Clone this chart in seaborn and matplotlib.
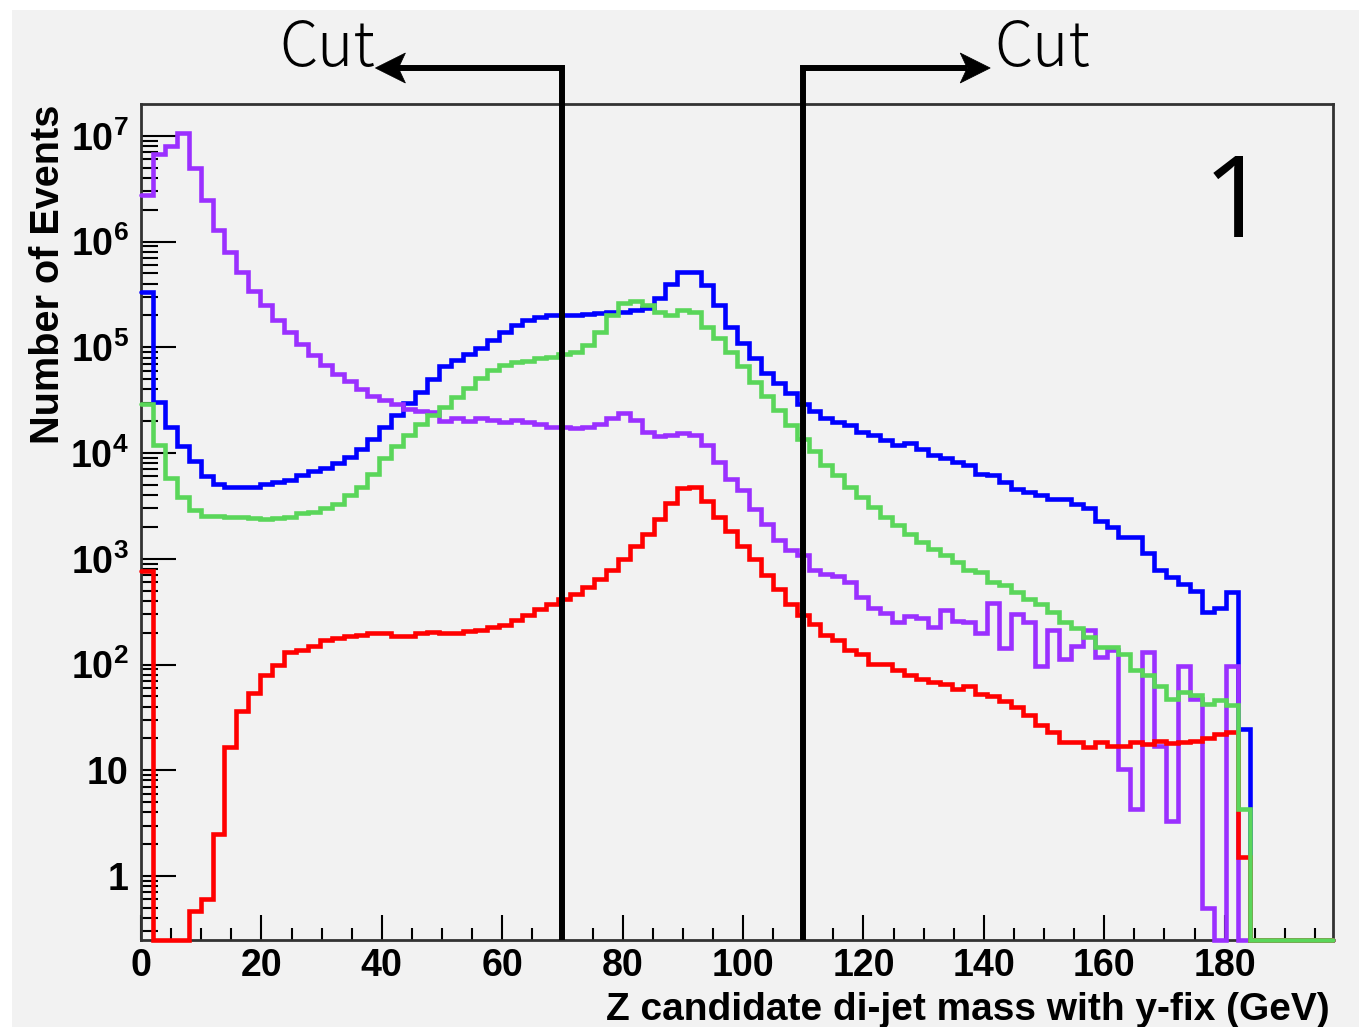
import numpy as np
import pandas as pd
import matplotlib
matplotlib.use("Agg")
import matplotlib.pyplot as plt
import seaborn as sns
from matplotlib.transforms import blended_transform_factory
from matplotlib.patches import Polygon, Rectangle
from matplotlib.lines import Line2D
from matplotlib.ticker import FixedLocator, MultipleLocator, NullFormatter

# ---------------------------------------------------------------- binning
N_BINS = 100
X_MIN, X_MAX = 0.0, 198.0          # GeV, 1.98 GeV per bin
Y_MIN, Y_MAX = 0.248, 2.0e7
CUT_LOW, CUT_HIGH = 70.0, 110.0    # di-jet mass window (GeV)

# ---------------------------------------------------------------- event counts per bin
blue_counts = [
    3.37e5, 3.06e4, 1.77e4, 1.17e4, 8.4e3, 6.0e3, 5.1e3, 4.8e3, 4.8e3, 4.8e3,
    5.1e3, 5.36e3, 5.5e3, 6.2e3, 6.8e3, 7.2e3, 8.1e3, 9.2e3, 1.1e4, 1.37e4,
    1.77e4, 2.3e4, 2.95e4, 3.8e4, 5.0e4, 6.6e4, 7.6e4, 8.6e4, 9.9e4, 1.17e5,
    1.41e5, 1.63e5, 1.82e5, 1.95e5, 2.02e5, 2.02e5, 2.02e5, 2.07e5, 2.1e5, 2.15e5,
    2.18e5, 2.25e5, 2.34e5, 2.95e5, 4.0e5, 5.2e5, 5.2e5, 3.9e5, 2.5e5, 1.57e5,
    1.1e5, 7.9e4, 5.7e4, 4.6e4, 3.67e4, 2.9e4, 2.5e4, 2.13e4, 1.98e4, 1.84e4,
    1.59e4, 1.47e4, 1.32e4, 1.19e4, 1.24e4, 1.1e4, 9.6e3, 8.9e3, 8.3e3, 7.7e3,
    6.4e3, 6.2e3, 5.36e3, 4.6e3, 4.3e3, 4.05e3, 3.65e3, 3.65e3, 3.28e3, 2.99e3,
    2.26e3, 2.0e3, 1.61e3, 1.61e3, 1.14e3, 7.8e2, 6.7e2, 5.8e2, 5.0e2, 3.14e2,
    3.43e2, 4.86e2, 24.7, 0, 0, 0, 0, 0, 0, 0,
]

violet_counts = [
    2.75e6, 6.7e6, 8.05e6, 1.07e7, 5.0e6, 2.47e6, 1.3e6, 7.9e5, 5.2e5, 3.4e5,
    2.5e5, 1.8e5, 1.4e5, 1.07e5, 8.5e4, 6.8e4, 5.6e4, 4.8e4, 4.0e4, 3.5e4,
    3.2e4, 2.9e4, 2.6e4, 2.5e4, 2.46e4, 2.02e4, 2.13e4, 2.02e4, 2.13e4, 2.05e4,
    1.98e4, 2.05e4, 1.98e4, 1.88e4, 1.77e4, 1.77e4, 1.71e4, 1.75e4, 1.88e4, 2.13e4,
    2.4e4, 2.05e4, 1.59e4, 1.44e4, 1.47e4, 1.56e4, 1.47e4, 1.19e4, 8.3e3, 5.7e3,
    4.45e3, 2.98e3, 2.15e3, 1.5e3, 1.2e3, 1.08e3, 7.8e2, 7.2e2, 6.9e2, 6.0e2,
    4.35e2, 3.4e2, 3.1e2, 2.5e2, 2.9e2, 2.76e2, 2.26e2, 3.3e2, 2.6e2, 2.5e2,
    2.0e2, 3.85e2, 1.43e2, 3.0e2, 2.5e2, 97, 2.1e2, 1.13e2, 1.5e2, 2.1e2,
    1.18e2, 1.36e2, 10.3, 4.3, 1.3e2, 17, 3.3, 97, 47, 0.5,
    0, 97, 0, 0, 0, 0, 0, 0, 0, 0,
]

red_counts = [
    7.6e2, 0, 0, 0, 0.47, 0.6, 2.5, 16.5, 36, 54,
    79, 98, 130, 138, 150, 170, 178, 185, 190, 200,
    200, 188, 188, 200, 203, 199, 199, 206, 214, 226,
    238, 266, 292, 337, 376, 414, 462, 542, 640, 777,
    1.0e3, 1.31e3, 1.73e3, 2.4e3, 3.4e3, 4.7e3, 4.8e3, 3.5e3, 2.5e3, 1.82e3,
    1.31e3, 990, 708, 522, 376, 295, 243, 189, 172, 136,
    126, 102, 102, 89, 80, 73, 69, 66, 59, 62,
    53, 50, 45, 40, 33, 27, 23, 18.5, 18.5, 16.5,
    18.5, 17, 17, 18.5, 17.7, 18.8, 18, 18.5, 19, 20,
    22, 23, 1.5, 0, 0, 0, 0, 0, 0, 0,
]

green_counts = [
    2.9e4, 1.2e4, 5.8e3, 3.85e3, 2.9e3, 2.55e3, 2.55e3, 2.5e3, 2.5e3, 2.45e3,
    2.4e3, 2.45e3, 2.5e3, 2.68e3, 2.77e3, 3.0e3, 3.3e3, 4.0e3, 4.8e3, 6.4e3,
    8.9e3, 1.17e4, 1.47e4, 1.9e4, 2.29e4, 2.74e4, 3.4e4, 4.15e4, 5.1e4, 6.1e4,
    6.8e4, 7.2e4, 7.5e4, 7.9e4, 8.1e4, 8.6e4, 9.0e4, 1.05e5, 1.41e5, 2.02e5,
    2.64e5, 2.74e5, 2.5e5, 2.18e5, 2.02e5, 2.25e5, 2.18e5, 1.57e5, 1.22e5, 9.1e4,
    6.6e4, 4.7e4, 3.5e4, 2.55e4, 1.84e4, 1.35e4, 1.05e4, 7.7e3, 6.2e3, 4.8e3,
    3.86e3, 3.1e3, 2.5e3, 2.08e3, 1.73e3, 1.44e3, 1.25e3, 1.08e3, 9.3e2, 7.8e2,
    7.5e2, 6.0e2, 5.6e2, 4.9e2, 4.2e2, 3.77e2, 3.14e2, 2.55e2, 2.2e2, 1.82e2,
    1.47e2, 1.45e2, 1.26e2, 88, 79, 63, 47, 55, 51, 42.6,
    45.7, 41, 4.3, 0, 0, 0, 0, 0, 0, 0,
]

x_tick_values = [0, 20, 40, 60, 80, 100, 120, 140, 160, 180]
x_tick_labels = [str(v) for v in x_tick_values]
y_tick_values = [1, 10, 1e2, 1e3, 1e4, 1e5, 1e6, 1e7]
y_tick_labels = ["1", "10", r"$\mathbf{10^{2}}$", r"$\mathbf{10^{3}}$", r"$\mathbf{10^{4}}$",
                 r"$\mathbf{10^{5}}$", r"$\mathbf{10^{6}}$", r"$\mathbf{10^{7}}$"]

x_label = "Z candidate di-jet mass with y-fix (GeV)"
y_label = "Number of Events"

# ---------------------------------------------------------------- style
sns.set_style("ticks")
plt.rcParams.update({
    "font.family": ["Liberation Sans", "DejaVu Sans"],
    "text.color": "black",
    "mathtext.fontset": "custom",
    "mathtext.rm": "Liberation Sans:bold",
    "mathtext.bf": "Liberation Sans:bold",
    "mathtext.it": "Liberation Sans:bold",
})

W, H = 1359, 1027
BG = "#f2f2f2"
fig = plt.figure(figsize=(W / 100, H / 100), dpi=100)
fig.patch.set_facecolor("white")
fig.add_artist(Rectangle((12 / W, 0), 1 - 12 / W, 1 - 10 / H, transform=fig.transFigure,
                         facecolor=BG, edgecolor="none", zorder=-10))

ax = fig.add_axes([141 / W, 1 - 940 / H, (1333 - 141) / W, (940 - 104) / H])
ax.set_facecolor(BG)
ax.set_yscale("log")

bin_edges = list(np.linspace(X_MIN, X_MAX, N_BINS + 1))
centers = 0.5 * (np.array(bin_edges[:-1]) + np.array(bin_edges[1:]))

series = [
    (blue_counts, "#0000ff"),
    (violet_counts, "#9b30ff"),
    (red_counts, "#ff0000"),
    (green_counts, "#5ad65a"),
]
for z, (counts, color) in enumerate(series):
    # empty bins are drawn along the lower edge of the log axis
    shown = np.clip(np.asarray(counts, dtype=float), Y_MIN, None)
    frame = pd.DataFrame({"mass": centers, "events": shown})
    sns.histplot(data=frame, x="mass", weights="events", bins=bin_edges, element="step",
                 fill=False, color=color, linewidth=3.3, solid_joinstyle="miter",
                 clip_on=False, ax=ax, zorder=3 + z)

ax.set_xlim(X_MIN, X_MAX)
ax.set_ylim(Y_MIN, Y_MAX)
ax.set_xlabel("")
ax.set_ylabel("")

# ---------------------------------------------------------------- axes, ticks
ax.xaxis.set_major_locator(FixedLocator(x_tick_values))
ax.set_xticklabels(x_tick_labels)
ax.xaxis.set_minor_locator(MultipleLocator(5))
ax.yaxis.set_major_locator(FixedLocator(y_tick_values))
ax.set_yticklabels(y_tick_labels)
y_minor = [m * 10.0 ** d for d in range(-1, 7) for m in range(2, 10)]
y_minor = [v for v in y_minor if Y_MIN < v < Y_MAX]
ax.yaxis.set_minor_locator(FixedLocator(y_minor))
ax.yaxis.set_minor_formatter(NullFormatter())

ax.tick_params(axis="x", which="major", direction="in", length=18, width=1.5,
               colors="black", labelsize=27, pad=6, top=False)
ax.tick_params(axis="x", which="minor", direction="in", length=8.5, width=1.5,
               colors="black", top=False)
ax.tick_params(axis="y", which="major", direction="in", length=25, width=1.5,
               colors="black", labelsize=27, pad=9, right=False)
ax.tick_params(axis="y", which="minor", direction="in", length=12, width=1.5,
               colors="black", right=False)
for lab in ax.get_xticklabels() + ax.get_yticklabels():
    lab.set_fontweight("bold")

for sp in ax.spines.values():
    sp.set_visible(True)
    sp.set_linewidth(2.0)
    sp.set_color("#333333")
    sp.set_zorder(2.5)

fig.text(1330 / W, 1 - 1020 / H, x_label, ha="right", va="baseline",
         fontsize=28, fontweight="bold", color="black")
fig.text(48 / W, 1 - 105 / H, y_label, ha="center", va="top", rotation=90,
         fontsize=28.5, fontweight="bold", color="black")

# panel number
ax.text(0.918, 0.841, "1", transform=ax.transAxes, ha="center", va="baseline",
        fontsize=82, family=["Open Sans", "Liberation Sans"], color="black")

# ---------------------------------------------------------------- cut markers
blend = blended_transform_factory(ax.transData, fig.transFigure)
y_bottom = ax.get_position().y0
y_arrow = 1 - 68 / H
gev_per_px = (X_MAX - X_MIN) / (1333 - 141)
arrow_len = 187 * gev_per_px
head_len = 30 * gev_per_px
head_half = 15 / H

for cut, sign in [(CUT_LOW, -1), (CUT_HIGH, +1)]:
    tip = cut + sign * arrow_len
    base = tip - sign * head_len
    notch = base + sign * 7 * gev_per_px
    fig.add_artist(Line2D([cut, cut, notch], [y_bottom, y_arrow, y_arrow], transform=blend,
                          color="black", linewidth=4.3, solid_joinstyle="miter",
                          solid_capstyle="butt", zorder=20))
    fig.add_artist(Polygon([[tip, y_arrow], [base, y_arrow + head_half],
                            [notch, y_arrow], [base, y_arrow - head_half]],
                           closed=True, transform=blend, facecolor="black",
                           edgecolor="black", linewidth=0.5, zorder=20))
    text_x = tip if sign < 0 else tip + 4 * gev_per_px
    fig.text(text_x, 1 - 66 / H, "Cut", transform=blend,
             ha="right" if sign < 0 else "left", va="baseline",
             fontsize=44, fontweight="light",
             family=["Noto Sans CJK JP", "DejaVu Sans"], color="black")

fig.savefig("out.png", dpi=100, facecolor=fig.get_facecolor())
